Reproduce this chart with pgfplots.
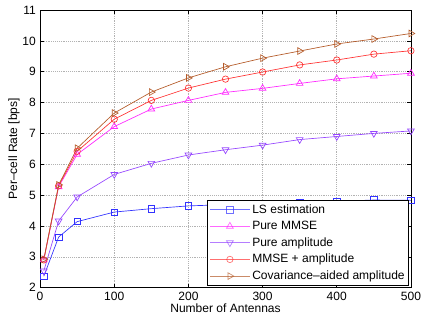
\documentclass[border=0pt]{standalone}
\usepackage{fontspec}
\setmainfont{Liberation Sans}
\usepackage{pgfplots}
\pgfplotsset{compat=1.18}
\definecolor{cLS}{RGB}{50,50,255}
\definecolor{cMM}{RGB}{255,40,255}
\definecolor{cPA}{RGB}{150,70,255}
\definecolor{cMA}{RGB}{255,50,50}
\definecolor{cCA}{RGB}{180,90,40}
\begin{document}
\fontsize{9}{11}\selectfont
\begin{tikzpicture}
\begin{axis}[
  name=ax,
  scale only axis, width=277.5pt, height=207.75pt,
  xmin=0, xmax=500, ymin=2, ymax=11,
  xtick={0,100,...,500}, ytick={2,3,...,11},
  grid=major, major grid style={densely dotted, gray!60, line width=0.4pt},
  tick align=inside, tick style={black, line width=0.4pt}, major tick length=3pt,
  axis line style={line width=0.4pt},
  xlabel={Number of Antennas}, ylabel={Per--cell Rate [bps]},
  xlabel style={yshift=4pt}, ylabel style={yshift=-4pt},
  /pgf/number format/assume math mode=true,
  ticklabel style={font=\fontsize{9}{11}\selectfont},
  label style={font=\fontsize{9}{11}\selectfont},
  legend style={at={(0.995,0.007)}, anchor=south east, font=\fontsize{9}{11}\selectfont,
    draw=black, line width=0.5pt, row sep=1.6pt, inner sep=1.5pt,
    nodes={inner sep=1.5pt}},
  legend cell align=left,
  legend image code/.code={\draw[opacity=0.7, mark repeat=2,mark phase=2] plot coordinates {(0pt,0pt) (15pt,0pt) (30pt,0pt)};},
  every axis plot/.append style={line width=0.5pt, mark size=2.4pt, mark options={solid, fill=none}},
]
\addplot[cLS, mark=square] coordinates {(5,2.37) (25,3.64) (50,4.14) (100,4.45) (150,4.56) (200,4.65) (250,4.69) (300,4.73) (350,4.77) (400,4.80) (450,4.84) (500,4.83)};
\addlegendentry{LS estimation}
\addplot[cMM, mark=triangle, mark size=2.9pt] coordinates {(5,2.90) (25,5.27) (50,6.32) (100,7.22) (150,7.79) (200,8.07) (250,8.33) (300,8.46) (350,8.62) (400,8.77) (450,8.86) (500,8.95)};
\addlegendentry{Pure MMSE}
\addplot[cPA, mark=triangle, mark options={solid, fill=none, rotate=180}, mark size=2.9pt] coordinates {(5,2.54) (25,4.16) (50,4.94) (100,5.67) (150,6.03) (200,6.30) (250,6.47) (300,6.62) (350,6.80) (400,6.90) (450,7.00) (500,7.08)};
\addlegendentry{Pure amplitude}
\addplot[cMA, mark=o] coordinates {(5,2.90) (25,5.30) (50,6.42) (100,7.46) (150,8.07) (200,8.47) (250,8.76) (300,8.99) (350,9.22) (400,9.38) (450,9.57) (500,9.68)};
\addlegendentry{MMSE + amplitude}
\addplot[cCA, mark=triangle, mark options={solid, fill=none, rotate=-90}, mark size=2.9pt] coordinates {(5,2.92) (25,5.33) (50,6.52) (100,7.66) (150,8.34) (200,8.80) (250,9.16) (300,9.44) (350,9.67) (400,9.90) (450,10.06) (500,10.24)};
\addlegendentry{Covariance--aided amplitude}
\end{axis}
\path ([shift={(-30pt,-25.5pt)}]ax.south west) ([shift={(24pt,7.5pt)}]ax.north east);
\end{tikzpicture}
\end{document}
